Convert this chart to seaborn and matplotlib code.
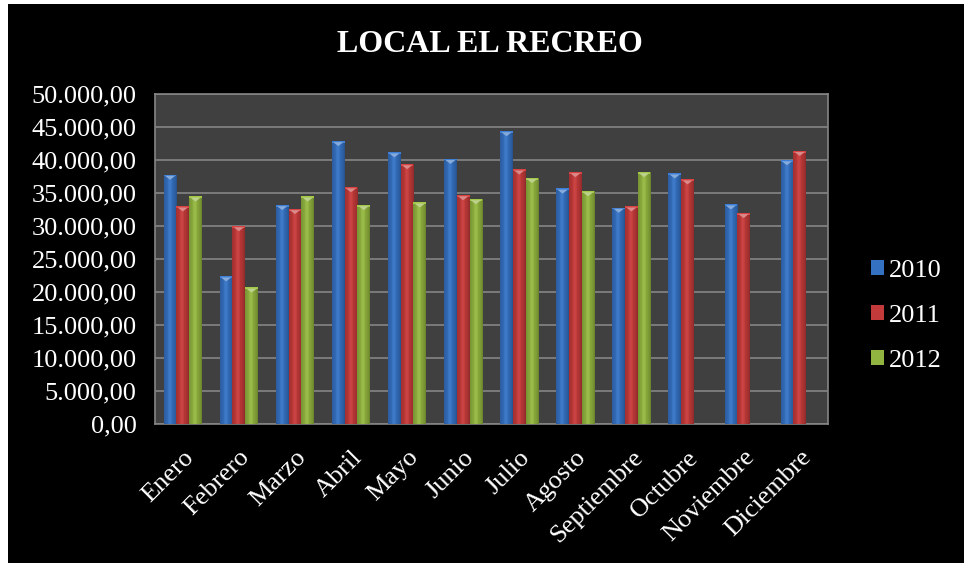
import numpy as np
import pandas as pd
import seaborn as sns
import matplotlib
matplotlib.use("Agg")
import matplotlib.pyplot as plt
from matplotlib.patches import Rectangle, Polygon
from matplotlib.ticker import FuncFormatter, MultipleLocator
from matplotlib.colors import to_rgb

# Monthly sales of the store, per year
meses = ["Enero", "Febrero", "Marzo", "Abril", "Mayo", "Junio", "Julio",
         "Agosto", "Septiembre", "Octubre", "Noviembre", "Diciembre"]
anios = ["2010", "2011", "2012"]
ventas_2010 = [37800, 22400, 33200, 42900, 41200, 40200, 44400, 35700, 32800, 38000, 33300, 40000]
ventas_2011 = [33000, 30000, 32600, 35900, 39400, 34700, 38600, 38200, 33000, 37100, 32000, 41400]
ventas_2012 = [34500, 20700, 34500, 33200, 33600, 34100, 37300, 35300, 38200, np.nan, np.nan, np.nan]

colores = {"2010": "#3571c1", "2011": "#c33a3a", "2012": "#91b33f"}

df = pd.DataFrame({
    "Mes": meses * 3,
    "Año": [a for a in anios for _ in meses],
    "Ventas": ventas_2010 + ventas_2011 + ventas_2012,
})

sns.set_theme(style="dark")
plt.rcParams["font.family"] = ["Liberation Serif", "DejaVu Serif"]

fig = plt.figure(figsize=(9.64, 5.63), dpi=100)
fig.patch.set_facecolor("white")
fig.add_artist(Rectangle((8 / 964, 0), 1 - 8 / 964, 1 - 4 / 563,
                         transform=fig.transFigure, facecolor="black",
                         edgecolor="none", zorder=-10))

ax = fig.add_axes([0.1605, 0.2469, 0.6981, 0.5861])
sns.barplot(data=df, x="Mes", y="Ventas", hue="Año", hue_order=anios,
            order=meses, palette=colores, width=0.68, saturation=1,
            edgecolor="none", linewidth=0, ax=ax, legend=False, zorder=3)

ax.set_facecolor("#404040")
ax.set_ylim(0, 50000)
ax.yaxis.set_major_locator(MultipleLocator(5000))
ax.yaxis.set_major_formatter(FuncFormatter(
    lambda v, p: f"{v:,.2f}".replace(",", "X").replace(".", ",").replace("X", ".")))
ax.grid(axis="y", color="#858585", linewidth=1.2, zorder=1)
ax.grid(axis="x", visible=False)
ax.set_axisbelow(True)
for s in ax.spines.values():
    s.set_visible(True)
    s.set_color("#858585")
    s.set_linewidth(1.2)
ax.set_xlabel("")
ax.set_ylabel("")
ax.tick_params(axis="both", length=0, colors="white", labelsize=19)
ax.tick_params(axis="y", pad=13)
ax.tick_params(axis="x", pad=16)
for lbl in ax.get_xticklabels():
    lbl.set_rotation(45)
    lbl.set_ha("right")
    lbl.set_rotation_mode("anchor")

# Bevelled look for every bar: side shading plus a light cap on top
shade = np.linspace(0, 1, 32)
prof = 0.72 + 0.28 * np.clip(1 - np.abs(shade - 0.45) / 0.55, 0, 1) ** 0.6
px_to_data = 50000 / 330.0
for bar in list(ax.patches):
    x, y0 = bar.get_x(), bar.get_y()
    w, h = bar.get_width(), bar.get_height()
    if not np.isfinite(h) or h <= 0:
        continue
    base = np.array(to_rgb(bar.get_facecolor()))
    grad = np.clip(base[None, :] * prof[:, None] + 0.04 * (prof[:, None] > 0.95), 0, 1)
    img = ax.imshow(grad[None, :, :], extent=(x, x + w, y0, y0 + h),
                    aspect="auto", zorder=3.5, interpolation="bilinear")
    img.set_clip_path(bar)
    top = y0 + h
    cap = 5 * px_to_data
    light = np.clip(base + (1 - base) * 0.4, 0, 1)
    ax.add_patch(Rectangle((x, top - cap * 0.35), w, cap * 0.35,
                           facecolor=np.clip(base * 1.12, 0, 1), edgecolor="none", zorder=3.6))
    ax.add_patch(Polygon([(x + w * 0.1, top - cap * 0.25), (x + w * 0.9, top - cap * 0.25),
                          (x + w * 0.5, top - cap * 1.05)], closed=True,
                         facecolor=light, edgecolor="none", zorder=3.7))
ax.set_xlim(-0.5, len(meses) - 0.5)
ax.set_ylim(0, 50000)

# Legend on the right
handles = [Rectangle((0, 0), 1, 1, facecolor=colores[a], edgecolor="none") for a in anios]
leg = fig.legend(handles, anios, loc="center left",
                 bbox_to_anchor=(860 / 964, 1 - 316 / 563), frameon=False,
                 fontsize=19, labelcolor="white", handlelength=0.5,
                 handleheight=0.5, handletextpad=0.2, labelspacing=0.86,
                 borderaxespad=0)

fig.text(490 / 964, 1 - 45 / 563, "LOCAL EL RECREO", ha="center", va="center",
         color="white", fontsize=23, fontweight="bold")

fig.savefig("out.png", dpi=100, facecolor=fig.get_facecolor())
